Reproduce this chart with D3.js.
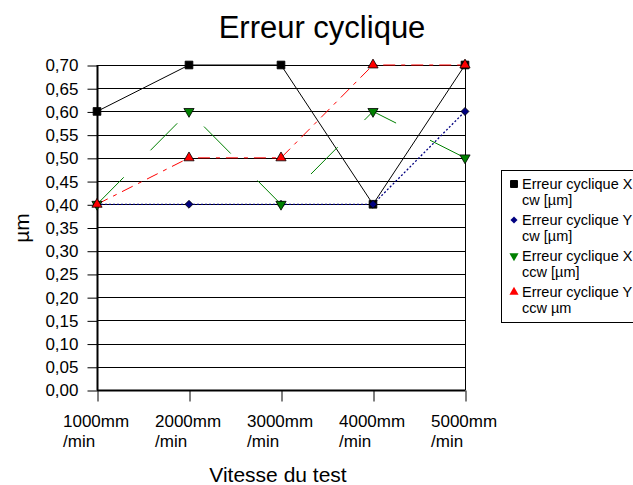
<!DOCTYPE html>
<html>
<head>
<meta charset="utf-8">
<script src="https://cdn.jsdelivr.net/npm/d3@7"></script>
<style>
body { margin: 0; background: #fff; }
text { font-family: "Liberation Sans", Arial, sans-serif; fill: #000; }
</style>
</head>
<body>
<div id="chart"></div>
<script>
// données
const categories = ["1000mm /min", "2000mm /min", "3000mm /min", "4000mm /min", "5000mm /min"];
const xcw  = [0.60, 0.70, 0.70, 0.40, 0.70];
const ycw  = [0.40, 0.40, 0.40, 0.40, 0.60];
const xccw = [0.40, 0.60, 0.40, 0.60, 0.50];
const yccw = [0.40, 0.50, 0.50, 0.70, 0.70];
const yTicks = d3.range(0, 15).map(i => i * 0.05);
const legendLabels = [
	["Erreur cyclique X", "cw  [µm]"],
	["Erreur cyclique Y", "cw  [µm]"],
	["Erreur cyclique X", "ccw [µm]"],
	["Erreur cyclique Y", "ccw µm"]
];

const W = 633, H = 485;
const svg = d3.select("#chart").append("svg")
	.attr("width", W)
	.attr("height", H);

const x = d3.scalePoint().domain(categories).range([97, 465]);
const y = d3.scaleLinear().domain([0, 0.7]).range([390, 65]);

// grille horizontale
svg.append("g")
	.selectAll("line")
	.data(yTicks)
	.join("line")
		.attr("x1", 97).attr("x2", 465)
		.attr("y1", d => Math.round(y(d)) + 0.5)
		.attr("y2", d => Math.round(y(d)) + 0.5)
		.attr("stroke", "#000")
		.attr("stroke-width", 1);

// bord droit
svg.append("line")
	.attr("x1", 465.5).attr("x2", 465.5)
	.attr("y1", 65).attr("y2", 390)
	.attr("stroke", "#000");

// axe Y
const yAxis = svg.append("g")
	.attr("transform", "translate(97.5,0.5)")
	.call(d3.axisLeft(y).tickValues(yTicks).tickSize(10).tickPadding(9)
		.tickFormat(d => d3.format(".2f")(d).replace(".", ",")));
yAxis.select(".domain").attr("stroke-width", 2).attr("d", "M0,64.5V390");
yAxis.selectAll("text").style("font-size", "17px").attr("font-family", null);

// axe X
const xAxis = svg.append("g")
	.attr("transform", "translate(0.5,390.5)")
	.call(d3.axisBottom(x).tickSize(11).tickFormat(""));
xAxis.select(".domain").attr("stroke-width", 2).attr("d", "M97,0H465");

categories.forEach(c => {
	const parts = c.split(" ");
	const t = svg.append("text")
		.attr("x", x(c) - 34)
		.attr("y", 427)
		.style("font-size", "17px");
	t.append("tspan").attr("x", x(c) - 34).text(parts[0]);
	t.append("tspan").attr("x", x(c) - 34).attr("dy", 20).text(parts[1]);
});

// titres
svg.append("text")
	.attr("x", 322).attr("y", 38)
	.attr("text-anchor", "middle")
	.style("font-size", "31px")
	.text("Erreur cyclique");

svg.append("text")
	.attr("x", 278).attr("y", 482)
	.attr("text-anchor", "middle")
	.style("font-size", "21px")
	.text("Vitesse du test");

svg.append("text")
	.attr("transform", "translate(29,228) rotate(-90)")
	.attr("text-anchor", "middle")
	.style("font-size", "21px")
	.text("µm");

// séries
const series = [
	{ values: xcw,  stroke: "#000000", dash: null,        width: 1,   symbol: d3.symbolSquare,   size: 60, fill: "#000000", rot: 0 },
	{ values: ycw,  stroke: "#000080", dash: "2,2",       width: 1.3, symbol: d3.symbolDiamond2, size: 40, fill: "#000080", rot: 0 },
	{ values: xccw, stroke: "#008000", dash: "38,38",     width: 1,   symbol: d3.symbolTriangle, size: 45, fill: "#008000", rot: 180 },
	{ values: yccw, stroke: "#ff0000", dash: "12,6,4,6",  width: 1,   symbol: d3.symbolTriangle, size: 45, fill: "#ff0000", rot: 0 }
];

const line = d3.line()
	.x((d, i) => x(categories[i]))
	.y(d => y(d));

series.forEach(s => {
	svg.append("path")
		.datum(s.values)
		.attr("d", line)
		.attr("fill", "none")
		.attr("stroke", s.stroke)
		.attr("stroke-width", s.width)
		.attr("stroke-dasharray", s.dash);
});

series.forEach(s => {
	svg.append("g")
		.selectAll("path")
		.data(s.values)
		.join("path")
			.attr("d", d3.symbol().type(s.symbol).size(s.size))
			.attr("transform", (d, i) => `translate(${x(categories[i])},${y(d)}) rotate(${s.rot})`)
			.attr("fill", s.fill)
			.attr("stroke", "#000")
			.attr("stroke-width", 0.8);
});

// légende
const lg = svg.append("g");
lg.append("rect")
	.attr("x", 501.5).attr("y", 170.5)
	.attr("width", 140).attr("height", 152)
	.attr("fill", "#fff")
	.attr("stroke", "#000");

series.forEach((s, i) => {
	const base = 189 + i * 36;
	lg.append("path")
		.attr("d", d3.symbol().type(s.symbol).size(s.size * 0.8))
		.attr("transform", `translate(514,${base - 5}) rotate(${s.rot})`)
		.attr("fill", s.fill)
		.attr("stroke", s.fill === "#000000" ? "#000" : "none");
	const t = lg.append("text")
		.attr("y", base)
		.style("font-size", "14.5px");
	t.append("tspan").attr("x", 522).text(legendLabels[i][0]);
	t.append("tspan").attr("x", 522).attr("dy", 16).text(legendLabels[i][1]);
});
</script>
</body>
</html>
